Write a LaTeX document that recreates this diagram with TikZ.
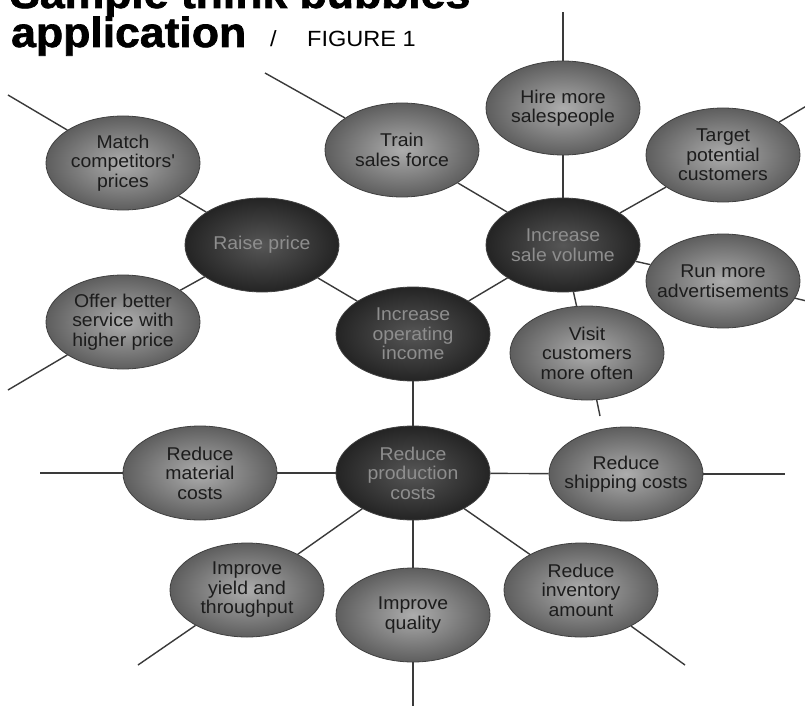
\documentclass[tikz,border=0pt]{standalone}
\usepackage{fontspec}
\setmainfont{Liberation Sans}
\newfontfamily\titlefont[FakeStretch=1.06,FakeBold=1.6]{Liberation Sans Bold}
\newfontfamily\figfont[FakeStretch=1.07]{Liberation Sans}
\newfontfamily\bubfont[FakeStretch=1.05]{Liberation Sans}
\usetikzlibrary{shapes.geometric}
\definecolor{lineC}{HTML}{3A3A3A}
\definecolor{outIn}{HTML}{ADADAD}
\definecolor{outOut}{HTML}{5E5E5E}
\definecolor{cenIn}{HTML}{565656}
\definecolor{cenOut}{HTML}{242424}
\definecolor{outText}{HTML}{1C1C1C}
\definecolor{cenText}{HTML}{8E8E8E}
\tikzset{
  bubble/.style={ellipse, minimum width=154pt, minimum height=94pt, inner xsep=-16pt, inner ysep=0pt,
    align=center, font=\bubfont\fontsize{18.5}{19.5}\selectfont, draw=black!75, line width=0.8pt},
  outerbub/.style={bubble, inner color=outIn, outer color=outOut, text=outText},
  centerbub/.style={bubble, inner color=cenIn, outer color=cenOut, text=cenText},
  conn/.style={draw=lineC, line width=1.4pt}
}
\begin{document}
\begin{tikzpicture}[x=1pt,y=-1pt]
\clip (0,0) rectangle (805,706);
\fill[white] (0,0) rectangle (805,706);
% title
\node[anchor=base west, inner sep=0pt, font=\titlefont\fontsize{42}{42}\selectfont] (t1) at (10,8) {Sample think bubbles};
\node[anchor=base west, inner sep=0pt, font=\titlefont\fontsize{42}{42}\selectfont] (t2) at (11,47) {application};
\node[anchor=base west, inner sep=0pt, font=\figfont\fontsize{22}{22}\selectfont] (t3) at (270,47) {/};
\node[anchor=base west, inner sep=0pt, font=\figfont\fontsize{22}{22}\selectfont] (t4) at (307,47) {FIGURE 1};
% bubbles
\node[outerbub] (match) at (123,163) {Match\\competitors'\\prices};
\node[centerbub] (raise) at (262,245) {Raise price};
\node[outerbub] (offer) at (123,322) {Offer better\\service with\\higher price};
\node[outerbub] (train) at (402,150) {Train\\sales force};
\node[outerbub] (hire) at (563,108) {Hire more\\salespeople};
\node[outerbub] (target) at (723,155) {Target\\potential\\customers};
\node[centerbub] (sale) at (563,245) {Increase\\sale volume};
\node[outerbub] (run) at (723,281) {Run more\\advertisements};
\node[centerbub] (income) at (413,334) {Increase\\operating\\income};
\node[outerbub] (visit) at (587,353) {Visit\\customers\\more often};
\node[outerbub] (material) at (200,473) {Reduce\\material\\costs};
\node[centerbub] (prod) at (413,473) {Reduce\\production\\costs};
\node[outerbub] (ship) at (626,474) {Reduce\\shipping costs};
\node[outerbub] (yield) at (247,590) {Improve\\yield and\\throughput};
\node[outerbub] (quality) at (413,615) {Improve\\quality};
\node[outerbub] (inventory) at (581,590) {Reduce\\inventory\\amount};
% free ends
\coordinate (matchE) at (8,95);
\coordinate (offerE) at (8,390);
\coordinate (trainE) at (265,73);
\coordinate (hireE) at (563,12);
\coordinate (targetE) at (815,101);
\coordinate (runE) at (815,303);
\coordinate (visitE) at (600,416);
\coordinate (materialE) at (40,473);
\coordinate (shipE) at (785,474);
\coordinate (yieldE) at (138,665);
\coordinate (qualityE) at (413,712);
\coordinate (inventoryE) at (685,665);
% connectors
\draw[conn] (match) -- (raise);
\draw[conn] (raise) -- (offer);
\draw[conn] (raise) -- (income);
\draw[conn] (train) -- (sale);
\draw[conn] (hire) -- (sale);
\draw[conn] (target) -- (sale);
\draw[conn] (sale) -- (run);
\draw[conn] (sale) -- (visit);
\draw[conn] (sale) -- (income);
\draw[conn] (income) -- (prod);
\draw[conn] (material) -- (prod);
\draw[conn] (prod) -- (ship);
\draw[conn] (prod) -- (yield);
\draw[conn] (prod) -- (quality);
\draw[conn] (prod) -- (inventory);
\draw[conn] (match) -- (matchE);
\draw[conn] (offer) -- (offerE);
\draw[conn] (train) -- (trainE);
\draw[conn] (hire) -- (hireE);
\draw[conn] (target) -- (targetE);
\draw[conn] (run) -- (runE);
\draw[conn] (visit) -- (visitE);
\draw[conn] (material) -- (materialE);
\draw[conn] (ship) -- (shipE);
\draw[conn] (yield) -- (yieldE);
\draw[conn] (quality) -- (qualityE);
\draw[conn] (inventory) -- (inventoryE);
\end{tikzpicture}
\end{document}
